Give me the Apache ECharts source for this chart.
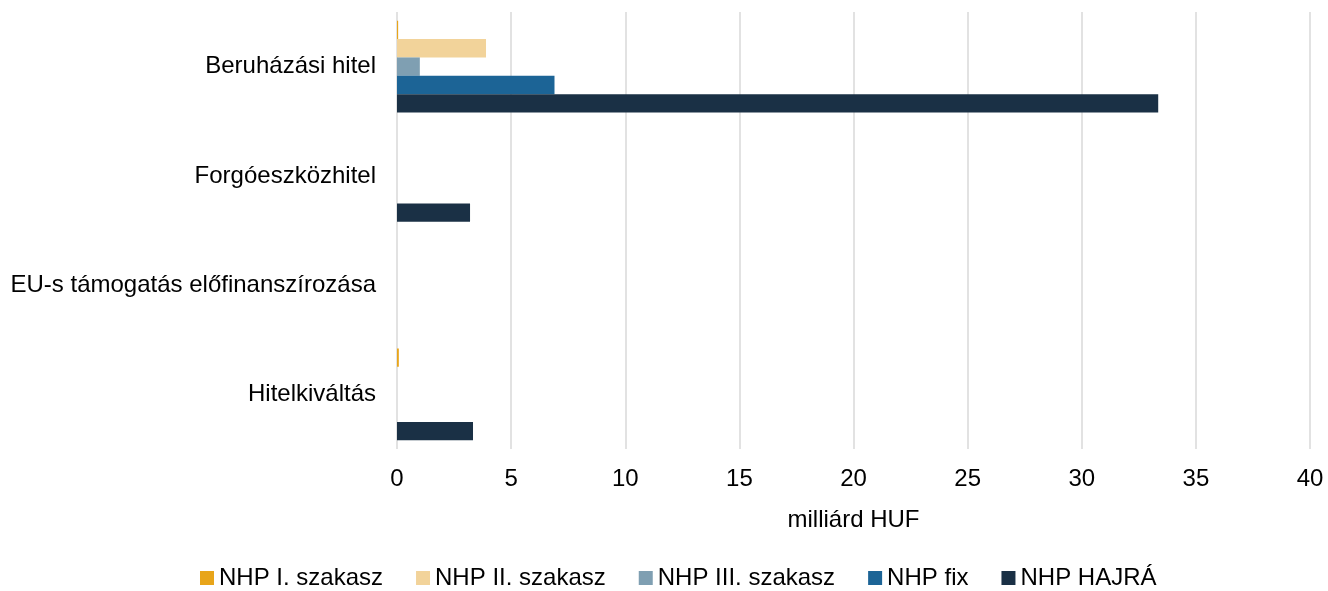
<!DOCTYPE html>
<html><head><meta charset="utf-8">
<script src="https://cdn.jsdelivr.net/npm/echarts@6/dist/echarts.min.js"></script>
<style>html,body{margin:0;padding:0;background:#fff}#c{width:1328px;height:591px}</style>
</head><body><div id="c"></div>
<script>
var categories = ['Beruházási hitel', 'Forgóeszközhitel', 'EU-s támogatás előfinanszírozása', 'Hitelkiváltás'];
var seriesNames = ['NHP I. szakasz', 'NHP II. szakasz', 'NHP III. szakasz', 'NHP fix', 'NHP HAJRÁ'];
var nhp1 = [0.05, 0, 0, 0.08];
var nhp2 = [3.9, 0, 0, 0];
var nhp3 = [1.0, 0, 0, 0];
var nhpFix = [6.9, 0, 0, 0];
var nhpHajra = [33.35, 3.2, 0, 3.33];
var xTicks = [0, 5, 10, 15, 20, 25, 30, 35, 40];
var colors = ['#E8A51A', '#F2D39A', '#7F9FB2', '#1C6496', '#1A3045'];

var dataSets = [nhp1, nhp2, nhp3, nhpFix, nhpHajra];
var chart = echarts.init(document.getElementById('c'));
var font = 'Liberation Sans, Arial, sans-serif';
var fs = 24;
chart.setOption({
  animation: false,
  textStyle: {fontFamily: font},
  grid: {left: 397, right: 18, top: 12, bottom: 142, containLabel: false},
  legend: {
    top: 566, left: 200, padding: 0, itemWidth: 14, itemHeight: 14, itemGap: 33,
    icon: 'rect',
    textStyle: {fontSize: fs, color: '#000', fontFamily: font},
    data: seriesNames
  },
  xAxis: {
    type: 'value', min: xTicks[0], max: xTicks[xTicks.length - 1], interval: 5,
    name: 'milliárd HUF', nameLocation: 'middle', nameGap: 59,
    nameTextStyle: {fontSize: fs, color: '#000', fontFamily: font},
    axisLine: {show: false}, axisTick: {show: false},
    axisLabel: {fontSize: fs, color: '#000', margin: 18, fontFamily: font},
    splitLine: {lineStyle: {color: '#D9D9D9', width: 1.5}}
  },
  yAxis: {
    type: 'category', data: categories, inverse: true,
    axisLine: {show: false}, axisTick: {show: false},
    axisLabel: {fontSize: fs, color: '#000', margin: 21, fontFamily: font}
  },
  series: seriesNames.map(function (n, i) {
    return {
      name: n, type: 'bar', data: dataSets[i],
      itemStyle: {color: colors[i]},
      barGap: '0%', barCategoryGap: '16%'
    };
  })
});
</script></body></html>
